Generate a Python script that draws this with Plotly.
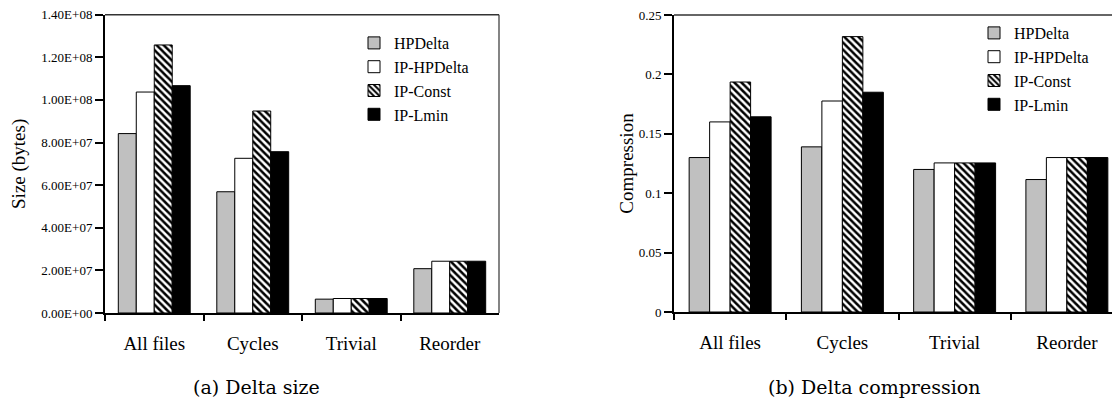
import plotly.graph_objects as go

W, H = 1120, 403
OFF = 8  # page body margin offset

categories = ["All files", "Cycles", "Trivial", "Reorder"]
series = ["HPDelta", "IP-HPDelta", "IP-Const", "IP-Lmin"]

size_hpdelta = [8.42e7, 5.69e7, 0.65e7, 2.08e7]
size_ip_hpdelta = [1.037e8, 7.26e7, 0.68e7, 2.43e7]
size_ip_const = [1.258e8, 9.48e7, 0.68e7, 2.43e7]
size_ip_lmin = [1.067e8, 7.57e7, 0.68e7, 2.43e7]

comp_hpdelta = [0.130, 0.139, 0.120, 0.1115]
comp_ip_hpdelta = [0.160, 0.1776, 0.1255, 0.130]
comp_ip_const = [0.1936, 0.2318, 0.1255, 0.130]
comp_ip_lmin = [0.1643, 0.185, 0.1255, 0.130]

size_ticks = [0, 2e7, 4e7, 6e7, 8e7, 1e8, 1.2e8, 1.4e8]
size_tick_text = ["0.00E+00", "2.00E+07", "4.00E+07", "6.00E+07",
                  "8.00E+07", "1.00E+08", "1.20E+08", "1.40E+08"]
comp_ticks = [0, 0.05, 0.1, 0.15, 0.2, 0.25]
comp_tick_text = ["0", "0.05", "0.1", "0.15", "0.2", "0.25"]

SERIF = "Liberation Serif, Times New Roman, Tinos, Times, serif"


def px(x):
    return (x - OFF) / W


def py(y):
    return 1 - (y - OFF) / H


styles = [
    dict(color="#c0c0c0"),
    dict(color="#ffffff"),
    dict(color="#ffffff", pattern=dict(shape="\\", fgcolor="#000000",
                                       bgcolor="#ffffff", size=5, solidity=0.5)),
    dict(color="#000000"),
]

fig = go.Figure()
left_data = [size_hpdelta, size_ip_hpdelta, size_ip_const, size_ip_lmin]
right_data = [comp_hpdelta, comp_ip_hpdelta, comp_ip_const, comp_ip_lmin]

for name, vals, st in zip(series, left_data, styles):
    fig.add_trace(go.Bar(x=categories, y=vals, name=name, xaxis="x", yaxis="y",
                         legend="legend", legendgroup="a" + name,
                         marker=dict(line=dict(color="#000000", width=1), **st)))
for name, vals, st in zip(series, right_data, styles):
    fig.add_trace(go.Bar(x=categories, y=vals, name=name, xaxis="x2", yaxis="y2",
                         legend="legend2", legendgroup="b" + name,
                         marker=dict(line=dict(color="#000000", width=1), **st)))

xcommon = dict(type="category", tickson="boundaries", ticks="outside", ticklen=6,
               tickwidth=1.5, tickcolor="#000", showline=True, linecolor="#000",
               linewidth=2, showgrid=False, zeroline=False, automargin=False,
               tickfont=dict(family=SERIF, size=19, color="#000"),
               ticklabelstandoff=12, range=[-0.5, 3.5])
ycommon = dict(ticks="outside", ticklen=8, tickwidth=1.5, tickcolor="#000",
               showline=True, linecolor="#000", linewidth=2, showgrid=False,
               zeroline=False, automargin=False, ticklabeloverflow="allow",
               tickfont=dict(family=SERIF, size=13, color="#000"))

legend_common = dict(font=dict(family=SERIF, size=16, color="#000"),
                     bgcolor="rgba(0,0,0,0)", xanchor="left", yanchor="top",
                     tracegroupgap=0, itemwidth=30)

fig.update_layout(
    template="none",
    width=W, height=H,
    margin=dict(l=0, r=0, t=0, b=0, pad=0),
    paper_bgcolor="white", plot_bgcolor="white",
    barmode="group", bargap=0.27, bargroupgap=0,
    xaxis=dict(domain=[px(105), px(499)], anchor="y", **xcommon),
    yaxis=dict(domain=[py(313), py(14.7)], anchor="x", range=[0, 1.4e8],
               tickvals=size_ticks, ticktext=size_tick_text,
               title=dict(text="Size (bytes)", font=dict(family=SERIF, size=19, color="#000"),
                          standoff=24),
               **ycommon),
    xaxis2=dict(domain=[px(674), px(1123)], anchor="y2", **xcommon),
    yaxis2=dict(domain=[py(312), py(15)], anchor="x2", range=[0, 0.25],
                tickvals=comp_ticks, ticktext=comp_tick_text,
                title=dict(text="Compression", font=dict(family=SERIF, size=19, color="#000"),
                           standoff=0),
                **ycommon),
    legend=dict(x=px(354), y=py(26), **legend_common),
    legend2=dict(x=px(974), y=py(16), **legend_common),
    showlegend=True,
    shapes=[
        dict(type="line", xref="x domain", yref="y domain", x0=0, x1=1, y0=1, y1=1,
             line=dict(color="#333", width=1.5)),
        dict(type="line", xref="x domain", yref="y domain", x0=1, x1=1, y0=0, y1=1,
             line=dict(color="#333", width=1.2)),
        dict(type="line", xref="x2 domain", yref="y2 domain", x0=0, x1=1, y0=1, y1=1,
             line=dict(color="#333", width=1.5)),
    ],
    annotations=[
        dict(text="(a) Delta size", xref="paper", yref="paper", x=px(256.5), y=py(387),
             xanchor="center", yanchor="middle", showarrow=False,
             font=dict(family="DejaVu Serif", size=19, color="#000")),
        dict(text="(b) Delta compression", xref="paper", yref="paper", x=px(873.5),
             y=py(387), xanchor="center", yanchor="middle", showarrow=False,
             font=dict(family="DejaVu Serif", size=19, color="#000")),
    ],
)

fig.write_html("out.html")
